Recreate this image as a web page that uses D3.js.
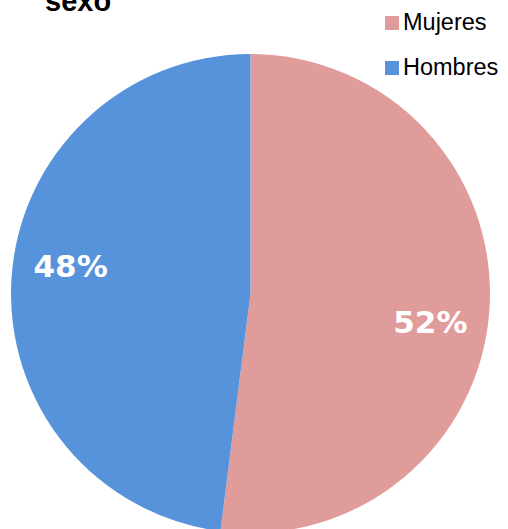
<!DOCTYPE html>
<html>
<head>
<meta charset="utf-8">
<script src="https://cdn.jsdelivr.net/npm/d3@7"></script>
<style>
  body { margin: 0; background: #fff; }
  svg { display: block; font-family: "Liberation Sans", Arial, sans-serif; }
</style>
</head>
<body>
<svg id="chart" width="508" height="529"></svg>
<script>
// data
const categories = ["Mujeres", "Hombres"];
const values = [52, 48];
const colors = ["#E09C9A", "#5793DB"];
const title = "sexo";

const svg = d3.select("#chart");
const cx = 250.5, cy = 293.5, radius = 239.5;

const pie = d3.pie().sort(null).value(d => d.value);
const arc = d3.arc().innerRadius(0).outerRadius(radius);
const labelR = radius * 0.76;
const labelShift = 5.2 * Math.PI / 180; // labels sit a bit clockwise of slice middle

const data = categories.map((c, i) => ({name: c, value: values[i], color: colors[i]}));
const total = d3.sum(values);

const g = svg.append("g").attr("transform", "translate(" + cx + "," + cy + ")");

const slices = g.selectAll("g.slice")
  .data(pie(data))
  .enter()
  .append("g")
  .attr("class", "slice");

slices.append("path")
  .attr("d", arc)
  .attr("fill", d => d.data.color);

slices.append("text")
  .attr("transform", d => {
    const a = (d.startAngle + d.endAngle) / 2 + labelShift;
    return "translate(" + (Math.sin(a) * labelR) + "," + (-Math.cos(a) * labelR) + ")";
  })
  .attr("text-anchor", "middle")
  .attr("dy", "0.36em")
  .attr("fill", "#fff")
  .style("font-family", "'DejaVu Sans', sans-serif")
  .style("font-weight", "bold")
  .style("font-size", "31px")
  .text(d => Math.round(d.data.value / total * 100) + "%");

// title (cut off at the top like the original)
svg.append("text")
  .attr("x", 45)
  .attr("y", 11)
  .style("font-weight", "bold")
  .style("font-size", "29px")
  .attr("fill", "#000")
  .text(title);

// legend
const legend = svg.append("g").attr("transform", "translate(385,16)");
const item = legend.selectAll("g")
  .data(data)
  .enter()
  .append("g")
  .attr("transform", (d, i) => "translate(0," + (i * 45) + ")");

item.append("rect")
  .attr("width", 14)
  .attr("height", 14)
  .attr("y", 0)
  .attr("fill", d => d.color);

item.append("text")
  .attr("x", 18)
  .attr("y", 13.5)
  .style("font-size", "23.5px")
  .attr("fill", "#000")
  .text(d => d.name);
</script>
</body>
</html>
